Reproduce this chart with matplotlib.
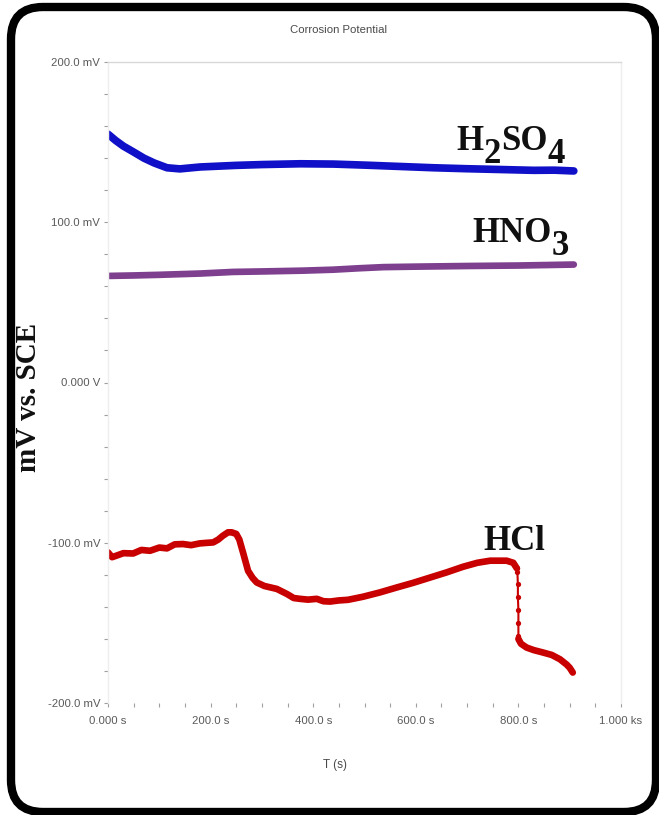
import matplotlib
matplotlib.use("Agg")
import matplotlib.pyplot as plt
from matplotlib.patches import FancyBboxPatch
from matplotlib.ticker import MultipleLocator

# ---------------- data ----------------
h2so4_t = [0, 15, 30, 49, 70, 90, 115, 140, 180, 250, 300, 375, 440, 505, 570, 635, 700, 766, 830, 870, 908]
h2so4_v = [155, 151, 147.5, 144, 140, 137, 134, 133.3, 134.5, 135.5, 136, 136.5, 136.3, 135.6, 134.8, 134,
           133.4, 132.9, 132.4, 132.5, 132]

hno3_t = [0, 50, 100, 180, 244, 300, 380, 439, 490, 537, 600, 700, 800, 908]
hno3_v = [66.5, 66.8, 67.2, 68, 69, 69.3, 69.8, 70.4, 71.3, 72, 72.3, 72.7, 73, 73.6]

hcl_t = [0, 8, 17, 30, 49, 65, 82, 100, 115, 130, 146, 162, 179, 195, 205, 215, 224, 234, 241, 250, 256,
         264, 273, 282, 290, 305, 329, 349, 362, 374, 390, 407, 420, 433, 450, 468, 497, 530, 563, 595, 628,
         660, 692, 720, 745, 777, 790, 797]
hcl_v = [-106, -109, -108, -106.5, -106.7, -104.5, -105, -103, -103.5, -101, -100.8, -101.5, -100.4, -100,
         -99.8, -98, -95.6, -93.5, -93.5, -94.5, -98, -107, -117.5, -122, -124.8, -127, -128.8, -132, -134.5,
         -135, -135.5, -135, -136.5, -136.7, -136, -135.6, -133.7, -131, -127.9, -125, -121.7, -118.5, -115,
         -112.5, -111.2, -111.2, -112.5, -116]
hcl_drop_t = [798, 799, 799, 800, 800, 800]
hcl_drop_v = [-118, -126, -134, -142, -150, -158]
hcl_end_t = [800, 805, 816, 830, 848, 865, 881, 894, 900, 906]
hcl_end_v = [-160, -163, -165.4, -167, -168.5, -170, -172.7, -176, -178, -181]

x_ticks = [0, 200, 400, 600, 800, 1000]
x_labels = ["0.000 s", "200.0 s", "400.0 s", "600.0 s", "800.0 s", "1.000 ks"]
y_ticks = [-200, -100, 0, 100, 200]
y_labels = ["-200.0 mV", "-100.0 mV", "0.000 V", "100.0 mV", "200.0 mV"]

title = "Corrosion Potential"
xlabel = "T (s)"
ylabel = "mV vs. SCE"

# ---------------- figure ----------------
W, H = 659, 815
fig = plt.figure(figsize=(W / 100, H / 100), dpi=100)
fig.patch.set_facecolor("white")

L, R, T, B = 108, 621, 62, 703
ax = fig.add_axes([L / W, 1 - B / H, (R - L) / W, (B - T) / H])
ax.set_xlim(0, 1000)
ax.set_ylim(-200, 200)

blue = "#1010c8"
purple = "#7d3f8e"
red = "#c80000"

ax.plot(h2so4_t, h2so4_v, color=blue, lw=5.5, solid_capstyle="round", solid_joinstyle="round")
ax.plot(hno3_t, hno3_v, color=purple, lw=4.8, solid_capstyle="round", solid_joinstyle="round")
ax.plot(hcl_t, hcl_v, color=red, lw=4.8, solid_capstyle="round", solid_joinstyle="round")
ax.plot([hcl_t[-1]] + hcl_drop_t + [hcl_end_t[0]], [hcl_v[-1]] + hcl_drop_v + [hcl_end_v[0]],
        color=red, lw=1.5, marker="o", ms=3.8, markeredgewidth=0)
ax.plot(hcl_end_t, hcl_end_v, color=red, lw=4.8, solid_capstyle="round", solid_joinstyle="round")

# spines
ax.spines["bottom"].set_visible(False)
ax.spines["top"].set_color("#d8d8d8")
ax.spines["left"].set_color("#eeeeee")
ax.spines["right"].set_color("#eeeeee")
for s in ["top", "left", "right"]:
    ax.spines[s].set_linewidth(1.0)

ax.set_xticks(x_ticks)
ax.set_xticklabels(x_labels)
ax.set_yticks(y_ticks)
ax.set_yticklabels(y_labels)
ax.xaxis.set_minor_locator(MultipleLocator(50))
ax.yaxis.set_minor_locator(MultipleLocator(20))
ax.tick_params(axis="both", which="both", direction="out", length=3, width=0.8, color="#a0a0a0",
               labelcolor="#5a5a5a", labelsize=8.2)
ax.tick_params(axis="x", which="both", pad=6)
ax.tick_params(axis="y", which="both", pad=2.5)
for lab in ax.get_xticklabels() + ax.get_yticklabels():
    lab.set_family("Liberation Sans")

fig.text(338 / W, 1 - 30 / H, title, ha="center", va="center", fontsize=8.2, color="#4a4a4a",
         family="Liberation Sans")
fig.text(335 / W, 1 - 765 / H, xlabel, ha="center", va="center", fontsize=8.5, color="#4a4a4a",
         family="Liberation Sans")
fig.text(29 / W, 1 - 397 / H, ylabel, ha="center", va="center", rotation=90, fontsize=21,
         fontweight="bold", color="#101010", family="Liberation Serif")

# ---------------- annotations with full-size lowered subscripts ----------------
ann_font = dict(family="Liberation Serif", fontweight="bold", fontsize=25, color="#101010")


def chem(x, y, parts):
    """parts: list of (text, is_sub). x,y in data coords (baseline-left)."""
    prev = ax.text(x, y, parts[0][0], ha="left", va="baseline", **ann_font)
    prev_sub = parts[0][1]
    for txt, sub in parts[1:]:
        dy = 0
        if sub and not prev_sub:
            dy = -9
        elif prev_sub and not sub:
            dy = 9
        prev = ax.annotate(txt, xy=(1, 0), xycoords=prev, xytext=(0, dy), textcoords="offset points",
                           ha="left", va="bottom", **ann_font)
        prev_sub = sub


chem(680, 145, [("H", False), ("2", True), ("SO", False), ("4", True)])
chem(710, 87.5, [("HNO", False), ("3", True)])
chem(731, -104.5, [("HCl", False)])

# ---------------- rounded frame ----------------
frame = FancyBboxPatch((11, 3), 645, 805, boxstyle="round,pad=0,rounding_size=32",
                       transform=None, fill=False, edgecolor="black", linewidth=6)
fig.patches.append(frame)

fig.savefig("out.png", dpi=100)
